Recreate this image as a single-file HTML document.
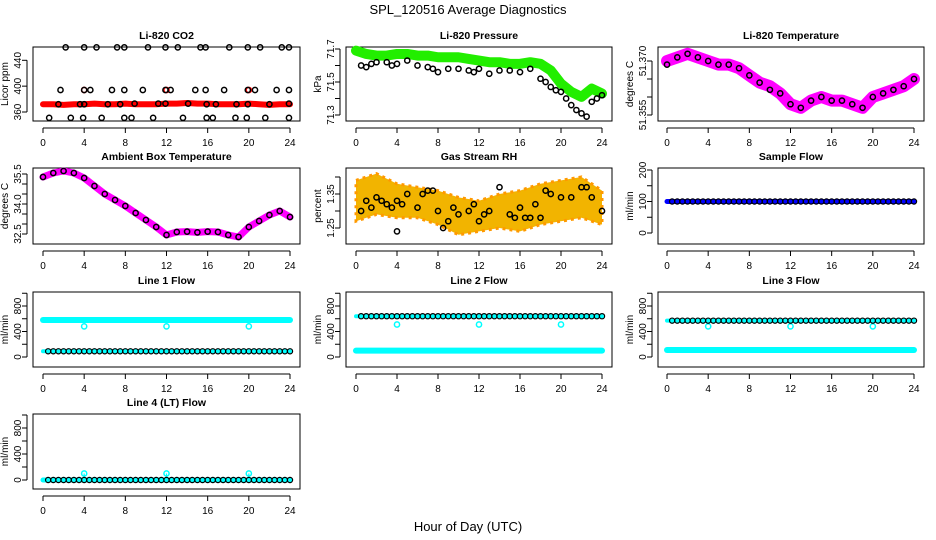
<!DOCTYPE html>
<html><head><meta charset="utf-8"><style>
html,body{margin:0;padding:0;background:#fff;}
svg{display:block;font-family:"Liberation Sans",sans-serif;}
</style></head><body>
<svg id="chart" width="936" height="540" viewBox="0 0 936 540" xmlns="http://www.w3.org/2000/svg">
<rect width="936" height="540" fill="#fff"/>
<text x="468" y="14" text-anchor="middle" font-size="13">SPL_120516  Average Diagnostics</text>
<text x="468" y="531" text-anchor="middle" font-size="13">Hour of Day (UTC)</text>
</svg>
<script>
// ---- data ----
const hours = [0,0.5,1,1.5,2,2.5,3,3.5,4,4.5,5,5.5,6,6.5,7,7.5,8,8.5,9,9.5,10,10.5,11,11.5,12,12.5,13,13.5,14,14.5,15,15.5,16,16.5,17,17.5,18,18.5,19,19.5,20,20.5,21,21.5,22,22.5,23,23.5,24];
const hourly = [0,1,2,3,4,5,6,7,8,9,10,11,12,13,14,15,16,17,18,19,20,21,22,23,24];
const xTicks = [0,4,8,12,16,20,24];

const co2Band = [372,372,371,372,372,373,372,372,373,372,372,372,373,373,374,373,373,372,372,372,373,372,371,372,372];
const co2HighX = [2.2,4.0,5.2,7.2,7.9,10.2,11.9,13.1,15.3,15.8,18.1,19.9,21.1,23.2,23.9];
const co2HighY = [460,460,460,460,460,460,460,460,460,460,460,460,460,460,460];
const co2MidX = [1.7,4.0,4.6,6.7,7.9,9.7,11.9,12.4,14.8,15.8,17.6,19.9,20.6,22.7,23.9];
const co2MidY = [394,394,394,394,394,394,394,394,394,394,394,394,394,394,394];
const co2LowX = [0.6,2.7,3.9,5.7,7.9,8.6,10.7,13.6,15.9,16.5,18.7,19.8,21.6,23.9];
const co2LowY = [351,351,351,351,351,351,351,351,351,351,351,351,351,351];
const co2BaseX = [1.5,3.6,4.0,6.3,7.5,8.9,11.2,11.9,14.1,15.9,16.8,18.8,19.9,22.0,23.9];
const co2BaseY = [372,372,372,372,372,373,373,373,373,372,372,372,372,372,373];
const co2RedX = [4.0,12.0,20.0];
const co2RedY = [394,394,394];

const presGreen = [71.69,71.67,71.66,71.66,71.67,71.67,71.66,71.66,71.65,71.65,71.65,71.64,71.63,71.62,71.62,71.61,71.61,71.62,71.61,71.57,71.49,71.44,71.41,71.46,71.43];
const presBlackX = [0.5,1,1.5,2,3,3.5,4,5,6,7,7.5,8,9,10,11,11.5,12,13,14,15,16,17,18,18.5,19,19.5,20,20.5,21,21.5,22,22.5,23,23.5,24];
const presBlackY = [71.6,71.59,71.61,71.62,71.62,71.6,71.61,71.63,71.6,71.59,71.58,71.56,71.58,71.58,71.57,71.56,71.58,71.55,71.57,71.57,71.56,71.58,71.52,71.5,71.47,71.45,71.44,71.40,71.36,71.33,71.31,71.29,71.38,71.4,71.42];

const ltempBand = [51.370,51.371,51.372,51.371,51.370,51.369,51.369,51.368,51.366,51.364,51.363,51.361,51.358,51.357,51.359,51.360,51.359,51.359,51.358,51.357,51.360,51.361,51.362,51.363,51.365];
const ltempBlack = [51.369,51.371,51.372,51.371,51.370,51.369,51.369,51.368,51.366,51.364,51.362,51.361,51.358,51.357,51.359,51.360,51.359,51.359,51.358,51.357,51.360,51.361,51.362,51.363,51.365];

const ambient = [35.35,35.55,35.65,35.55,35.3,34.9,34.5,34.2,33.9,33.55,33.2,32.85,32.45,32.6,32.62,32.58,32.62,32.6,32.45,32.35,32.85,33.15,33.45,33.65,33.35];

const rhBandX = [0,2,4,6,8,10,12,14,16,18,20,22,24];
const rhLow = [1.27,1.29,1.28,1.28,1.26,1.23,1.24,1.25,1.24,1.26,1.27,1.28,1.26];
const rhHigh = [1.39,1.41,1.38,1.37,1.36,1.34,1.33,1.35,1.36,1.38,1.39,1.40,1.36];
const rhBlackX = [0.5,1,1.5,2,2.5,3,3.5,4,4,4.5,5,6,6.5,7,7.5,8,8.5,9,9.5,10,11,11.5,12,12.5,13,14,15,15.5,16,16.5,17,17.5,18,18.5,19,20,21,22,22.5,23,24];
const rhBlackY = [1.30,1.33,1.31,1.34,1.33,1.32,1.31,1.33,1.24,1.32,1.35,1.31,1.35,1.36,1.36,1.30,1.25,1.27,1.31,1.29,1.30,1.32,1.27,1.29,1.30,1.37,1.29,1.28,1.31,1.28,1.28,1.32,1.28,1.36,1.35,1.34,1.34,1.37,1.37,1.34,1.30];

const sampleFlow = 100;
const line1Main = 580, line1Black = 90, line1Dip = 480;
const line2Black = 640, line2Cyan = 100, line2Dip = 510;
const line3Black = 570, line3Cyan = 110, line3Dip = 480;
const line4Black = 0, line4Spike = 100;
const dipHours = [4,12,20];

// ---- rendering ----
const NS = "http://www.w3.org/2000/svg";
const svg = document.getElementById("chart");
function mk(tag, attrs, parent){ const e=document.createElementNS(NS,tag); for(const k in attrs) e.setAttribute(k,attrs[k]); (parent||svg).appendChild(e); return e; }

const cols = [{l:33,r:300,h0:43,h24:290},{l:346,r:612,h0:356,h24:602},{l:658,r:924,h0:667,h24:914}];
const rows = [{t:47,b:121},{t:168,b:244},{t:292,b:367},{t:414,b:489}];

function panel(name, title, c, r, yA, pA, yB, pB, yt, yl, ylab){
  const C=cols[c], R=rows[r];
  const g = mk("g",{});
  
  
  const sx = h => C.h0 + (h)*(C.h24-C.h0)/24;
  const sy = v => pA + (v-yA)*(pB-pA)/(yB-yA);
  const box = mk("rect",{x:C.l,y:R.t,width:C.r-C.l,height:R.b-R.t,fill:"none",stroke:"#000","stroke-width":1},g);
  
  
  const tt = mk("text",{x:(C.l+C.r)/2,y:R.t-8,"text-anchor":"middle","font-size":10.5,"font-weight":"bold"},g);
  tt.textContent = title;
  
  
  const xa = mk("g",{},g);
  
  
  mk("line",{x1:sx(0),x2:sx(24),y1:R.b+7,y2:R.b+7,stroke:"#000"},xa);
  xTicks.forEach(t=>{
    mk("line",{x1:sx(t),x2:sx(t),y1:R.b+7,y2:R.b+12,stroke:"#000"},xa);
    const tx = mk("text",{x:sx(t),y:R.b+25,"text-anchor":"middle","font-size":10},xa);
    tx.textContent = t;
  });
  const ya = mk("g",{},g);
  
  
  const ax = C.l-6;
  const tl = C.l-12, lab = C.l-25;
  mk("line",{x1:ax,x2:ax,y1:sy(yt[0]),y2:sy(yt[yt.length-1]),stroke:"#000"},ya);
  yt.forEach(t=>{ mk("line",{x1:ax-5,x2:ax,y1:sy(t),y2:sy(t),stroke:"#000"},ya); });
  yl.forEach(t=>{
    const tx = mk("text",{x:tl,y:sy(t[0]),"text-anchor":"middle","font-size":10,transform:`rotate(-90 ${tl} ${sy(t[0])})`},ya);
    tx.textContent = t[1];
  });
  const yt2 = mk("text",{x:lab,y:(R.t+R.b)/2,"text-anchor":"middle","font-size":10,transform:`rotate(-90 ${lab} ${(R.t+R.b)/2})`},ya);
  yt2.textContent = ylab;
  
  
  const clip = mk("g",{},g);
  return {g:clip, sx, sy};
}
function pts(P, xs, ys, color, sname, sw){
  const grp = mk("g",{},P.g);
  
  
  xs.forEach((x,i)=>{
    const c = mk("circle",{cx:P.sx(x),cy:P.sy(ys[i]),r:2.6,fill:"none",stroke:color,"stroke-width":sw||1.5},grp);
    
    
  });
}
function band(P, xs, ys, color, w, sname){
  const p = mk("polyline",{points:xs.map((x,i)=>P.sx(x)+","+P.sy(ys[i])).join(" "),fill:"none",stroke:color,"stroke-width":w,"stroke-linejoin":"round","stroke-linecap":"round"},P.g);
  
  
}
const con = (n,v)=>Array(n).fill(v);

let P = panel("co2","Li-820 CO2",0,0,360,112,440,60.3,[360,400,440],[[360,"360"],[400,"400"],[440,"440"]],"Licor ppm");
band(P,hourly,co2Band,"#ff0000",6,"co2-red-band");
pts(P,co2RedX,co2RedY,"#ff0000","co2-red-points");
pts(P,co2HighX,co2HighY,"#000","co2-high-points");
pts(P,co2MidX,co2MidY,"#000","co2-mid-points");
pts(P,co2LowX,co2LowY,"#000","co2-low-points");
pts(P,co2BaseX,co2BaseY,"#000","co2-base-points");

P = panel("pressure","Li-820 Pressure",1,0,71.7,49,71.3,115,[71.3,71.4,71.5,71.6,71.7],[[71.3,"71.3"],[71.5,"71.5"],[71.7,"71.7"]],"kPa");
band(P,hourly,presGreen,"#22ee00",10,"pressure-green-band");
pts(P,presBlackX,presBlackY,"#000","pressure-black-points");

P = panel("li-temp","Li-820 Temperature",2,0,51.370,61,51.355,115,[51.355,51.360,51.365,51.370],[[51.355,"51.355"],[51.370,"51.370"]],"degrees C");
band(P,hourly,ltempBand,"#ff00ff",12,"li-temp-magenta-band");
pts(P,hourly,ltempBlack,"#000","li-temp-black-points");

P = panel("ambient","Ambient Box Temperature",0,1,35.5,174,32.5,234,[32.5,33,33.5,34,34.5,35,35.5],[[32.5,"32.5"],[34,"34.0"],[35.5,"35.5"]],"degrees C");
band(P,hourly,ambient,"#ff00ff",7,"ambient-magenta-band");
pts(P,hourly,ambient,"#000","ambient-black-points");

P = panel("rh","Gas Stream RH",1,1,1.25,228,1.40,177,[1.25,1.30,1.35,1.40],[[1.25,"1.25"],[1.35,"1.35"]],"percent");
{
  const poly = rhBandX.map((x,i)=>P.sx(x)+","+P.sy(rhHigh[i])).concat(rhBandX.slice().reverse().map((x,i)=>P.sx(x)+","+P.sy(rhLow[rhLow.length-1-i])));
  const pg = mk("polygon",{points:poly.join(" "),fill:"#f2b400",stroke:"#ff9900","stroke-width":3,"stroke-dasharray":"3 4"},P.g);
  
  
}
pts(P,rhBlackX,rhBlackY,"#000","rh-black-points");

P = panel("sample-flow","Sample Flow",2,1,0,233,200,170,[0,50,100,150,200],[[0,"0"],[100,"100"],[200,"200"]],"ml/min");
band(P,[0,24],[sampleFlow,sampleFlow],"#0000ff",5,"sample-flow-blue-band");
pts(P,hours.slice(1),con(48,sampleFlow),"#000","sample-flow-black-points",1.2);

const flowTicks=[0,200,400,600,800,1000], flowLabels=[[0,"0"],[400,"400"],[800,"800"]];
P = panel("line1","Line 1 Flow",0,2,0,357,800,306,flowTicks,flowLabels,"ml/min");
band(P,[0,24],[line1Main,line1Main],"#00ffff",6,"line1-cyan-band");
band(P,[0,24],[line1Black,line1Black],"#00ffff",4,"line1-cyan-low-band");
pts(P,dipHours,con(3,line1Dip),"#00ffff","line1-cyan-dips");
pts(P,hours.slice(1),con(48,line1Black),"#000","line1-black-points",1.2);

P = panel("line2","Line 2 Flow",1,2,0,357,800,306,flowTicks,flowLabels,"ml/min");
band(P,[0,24],[line2Cyan,line2Cyan],"#00ffff",6,"line2-cyan-band");
band(P,[0,24],[line2Black,line2Black],"#00ffff",4,"line2-cyan-high-band");
pts(P,dipHours,con(3,line2Dip),"#00ffff","line2-cyan-dips");
pts(P,hours.slice(1),con(48,line2Black),"#000","line2-black-points",1.2);

P = panel("line3","Line 3 Flow",2,2,0,357,800,306,flowTicks,flowLabels,"ml/min");
band(P,[0,24],[line3Cyan,line3Cyan],"#00ffff",6,"line3-cyan-band");
band(P,[0,24],[line3Black,line3Black],"#00ffff",4,"line3-cyan-high-band");
pts(P,dipHours,con(3,line3Dip),"#00ffff","line3-cyan-dips");
pts(P,hours.slice(1),con(48,line3Black),"#000","line3-black-points",1.2);

P = panel("line4","Line 4 (LT) Flow",0,3,0,480,800,428,flowTicks,flowLabels,"ml/min");
band(P,[0,24],[line4Black,line4Black],"#00ffff",5,"line4-cyan-band");
dipHours.forEach(h=>{ const l=mk("line",{x1:P.sx(h),x2:P.sx(h),y1:P.sy(line4Spike),y2:P.sy(0),stroke:"#00ffff","stroke-width":1.2},P.g);
  
   });
pts(P,dipHours,con(3,line4Spike),"#00ffff","line4-cyan-spikes");
pts(P,hours.slice(1),con(48,line4Black),"#000","line4-black-points",1.2);
</script>
</body></html>
